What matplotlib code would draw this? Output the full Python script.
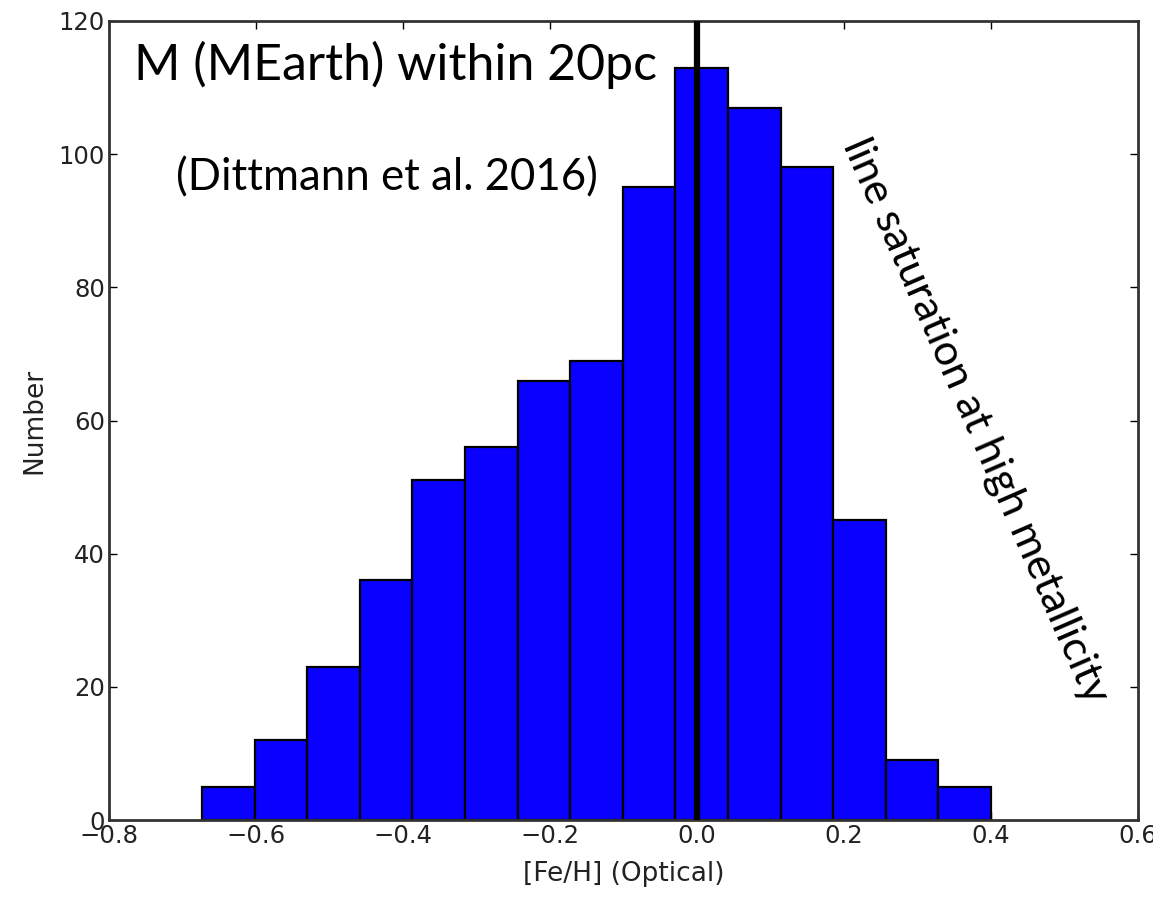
import numpy as np
import matplotlib
matplotlib.use("Agg")
import matplotlib.pyplot as plt

# histogram of [Fe/H] (optical) for MEarth M dwarfs within 20 pc
counts = [5, 12, 23, 36, 51, 56, 66, 69, 95, 113, 107, 98, 45, 9, 5]
feh_min, feh_max = -0.6735, 0.40
edges = np.linspace(feh_min, feh_max, len(counts) + 1)

xticks = [-0.8, -0.6, -0.4, -0.2, 0.0, 0.2, 0.4, 0.6]
yticks = [0, 20, 40, 60, 80, 100, 120]

fig = plt.figure(figsize=(11.53, 8.97), dpi=100)
ax = fig.add_axes([0.0945, 0.0858, 0.8925, 0.8908])

ax.bar(edges[:-1], counts, width=np.diff(edges), align='edge',
       color='#0a00ff', edgecolor='black', linewidth=1.6, zorder=2)
ax.axvline(0.0, color='black', linewidth=4.5, zorder=3)

ax.set_xlim(-0.8, 0.6)
ax.set_ylim(0, 120)
ax.set_xticks(xticks)
ax.set_yticks(yticks)
ax.tick_params(direction='in', length=6, width=1, top=True, right=True,
               labelsize=17.5, labelcolor='#222222', pad=3)
for s in ax.spines.values():
    s.set_linewidth(2)
    s.set_color('#333333')

ax.set_xlabel('[Fe/H] (Optical)', fontsize=19, color='#222222', labelpad=9)
ax.set_ylabel('Number', fontsize=19, color='#222222', labelpad=8)

# slide annotations
ax.text(0.024, 0.975, 'M (MEarth) within 20pc', transform=ax.transAxes,
        family='Lato', fontsize=36, va='top', ha='left', color='black')
ax.text(0.065, 0.83, '(Dittmann et al. 2016)', transform=ax.transAxes,
        family='Lato', fontsize=31.5, va='top', ha='left', color='black')
ax.text(0.842, 0.50, 'line saturation at high metallicity', transform=ax.transAxes,
        family='Lato', fontsize=31, rotation=-66.5, rotation_mode='anchor',
        va='center', ha='center', color='black')

fig.savefig('out.png', dpi=100)
